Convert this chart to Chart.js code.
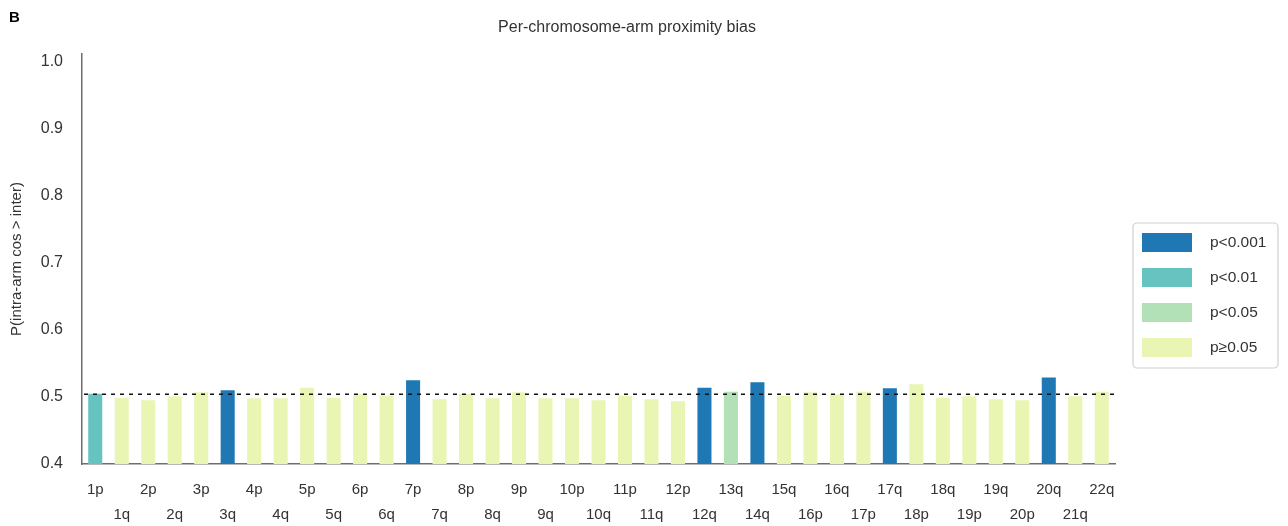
<!DOCTYPE html>
<html>
<head>
<meta charset="utf-8">
<title>Per-chromosome-arm proximity bias</title>
<script src="https://cdn.jsdelivr.net/npm/chart.js@4.4.1/dist/chart.umd.min.js"></script>
<style>
  html, body { margin: 0; padding: 0; background: #fff; }
  #wrap { position: relative; width: 1288px; height: 526px; }
</style>
</head>
<body>
<div id="wrap"><canvas id="armChart"></canvas></div>
<script>
// chromosome arms in plot order
const arms = ['1p','1q','2p','2q','3p','3q','4p','4q','5p','5q','6p','6q','7p','7q',
  '8p','8q','9p','9q','10p','10q','11p','11q','12p','12q','13q','14q','15q','16p','16q',
  '17p','17q','18p','18q','19p','19q','20p','20q','21q','22q'];

// P(intra-arm cos > inter)
const probIntra = [0.505,0.499,0.495,0.501,0.507,0.510,0.498,0.498,0.514,0.499,0.504,0.502,0.525,0.4965,
  0.505,0.498,0.507,0.498,0.498,0.495,0.502,0.4965,0.4935,0.514,0.508,0.522,0.502,0.507,0.504,
  0.508,0.513,0.519,0.499,0.501,0.4965,0.495,0.529,0.501,0.508];

// significance class per arm: 0 p<0.001, 1 p<0.01, 2 p<0.05, 3 p>=0.05
const sigClass = [1,3,3,3,3,0,3,3,3,3,3,3,0,3,
  3,3,3,3,3,3,3,3,3,0,2,0,3,3,3,
  3,0,3,3,3,3,3,0,3,3];

const sigLabels = ['p<0.001', 'p<0.01', 'p<0.05', 'p\u22650.05'];
const sigColors = ['#1f77b4', '#66c3bf', '#b3e1b7', '#e9f5b3'];

const yTicks = [0.4, 0.5, 0.6, 0.7, 0.8, 0.9, 1.0];
const refLine = 0.504;

const FONT = "'Liberation Sans', Arial, Helvetica, sans-serif";
const TEXT = '#333333';

// two-row tick labels: p/even arms on top, the rest below
const tickLabels = arms.map((a, i) => i % 2 === 0 ? [a, ''] : ['', a]);

// title, panel letter, dashed reference and legend box
const decorPlugin = {
  id: 'decor',
  afterDatasetsDraw(chart) {
    const ctx = chart.ctx;
    const area = chart.chartArea;
    const y = chart.scales.y.getPixelForValue(refLine);
    ctx.save();
    ctx.strokeStyle = '#111';
    ctx.lineWidth = 1.5;
    ctx.setLineDash([4, 5]);
    ctx.beginPath();
    ctx.moveTo(area.left + 2, y);
    ctx.lineTo(area.right, y);
    ctx.stroke();
    ctx.restore();
  },
  afterDraw(chart) {
    const ctx = chart.ctx;
    ctx.save();
    ctx.fillStyle = TEXT;
    ctx.textBaseline = 'middle';
    ctx.font = `16px ${FONT}`;
    ctx.textAlign = 'center';
    ctx.fillText('Per-chromosome-arm proximity bias', 627, 28);
    ctx.font = `bold 15px ${FONT}`;
    ctx.textAlign = 'left';
    ctx.fillStyle = '#000';
    ctx.fillText('B', 9, 18);

    // legend
    const lx = 1133, ly = 223, lw = 145, lh = 145;
    ctx.strokeStyle = '#d0d0d0';
    ctx.lineWidth = 1.2;
    ctx.beginPath();
    ctx.roundRect(lx, ly, lw, lh, 4);
    ctx.stroke();
    ctx.font = `15.5px ${FONT}`;
    sigLabels.forEach((lab, i) => {
      const ry = 233 + i * 35;
      ctx.fillStyle = sigColors[i];
      ctx.fillRect(1142, ry, 50, 19);
      ctx.fillStyle = TEXT;
      ctx.fillText(lab, 1210, ry + 10);
    });
    ctx.restore();
  }
};

const ctx = document.getElementById('armChart').getContext('2d');
new Chart(ctx, {
  type: 'bar',
  data: {
    labels: tickLabels,
    datasets: [{
      data: probIntra,
      backgroundColor: sigClass.map(c => sigColors[c]),
      barPercentage: 0.53,
      categoryPercentage: 1.0,
      borderWidth: 0
    }]
  },
  options: {
    responsive: true,
    maintainAspectRatio: false,
    animation: false,
    layout: { padding: { top: 54, right: 173, bottom: 0, left: 0 } },
    plugins: {
      legend: { display: false },
      tooltip: { enabled: false }
    },
    scales: {
      x: {
        grid: { display: false, drawTicks: false },
        border: { display: true, color: '#6e6e6e', width: 1.5 },
        ticks: {
          autoSkip: false,
          maxRotation: 0,
          minRotation: 0,
          padding: 13,
          color: TEXT,
          font: { family: FONT, size: 15, lineHeight: 1.67 }
        },
        afterFit(scale) { scale.height = 62; }
      },
      y: {
        min: 0.4,
        max: 1.012,
        grid: { display: false, drawTicks: false },
        border: { display: true, color: '#6e6e6e', width: 1.5 },
        afterBuildTicks(scale) { scale.ticks = yTicks.map(v => ({ value: v })); },
        ticks: {
          padding: 19,
          color: TEXT,
          font: { family: FONT, size: 16 },
          callback: v => v.toFixed(1)
        },
        title: {
          display: true,
          text: 'P(intra-arm cos > inter)',
          color: TEXT,
          font: { family: FONT, size: 15 },
          padding: { top: 8, bottom: 0 }
        },
        afterFit(scale) { scale.width = 82; }
      }
    }
  },
  plugins: [decorPlugin]
});
</script>
</body>
</html>
